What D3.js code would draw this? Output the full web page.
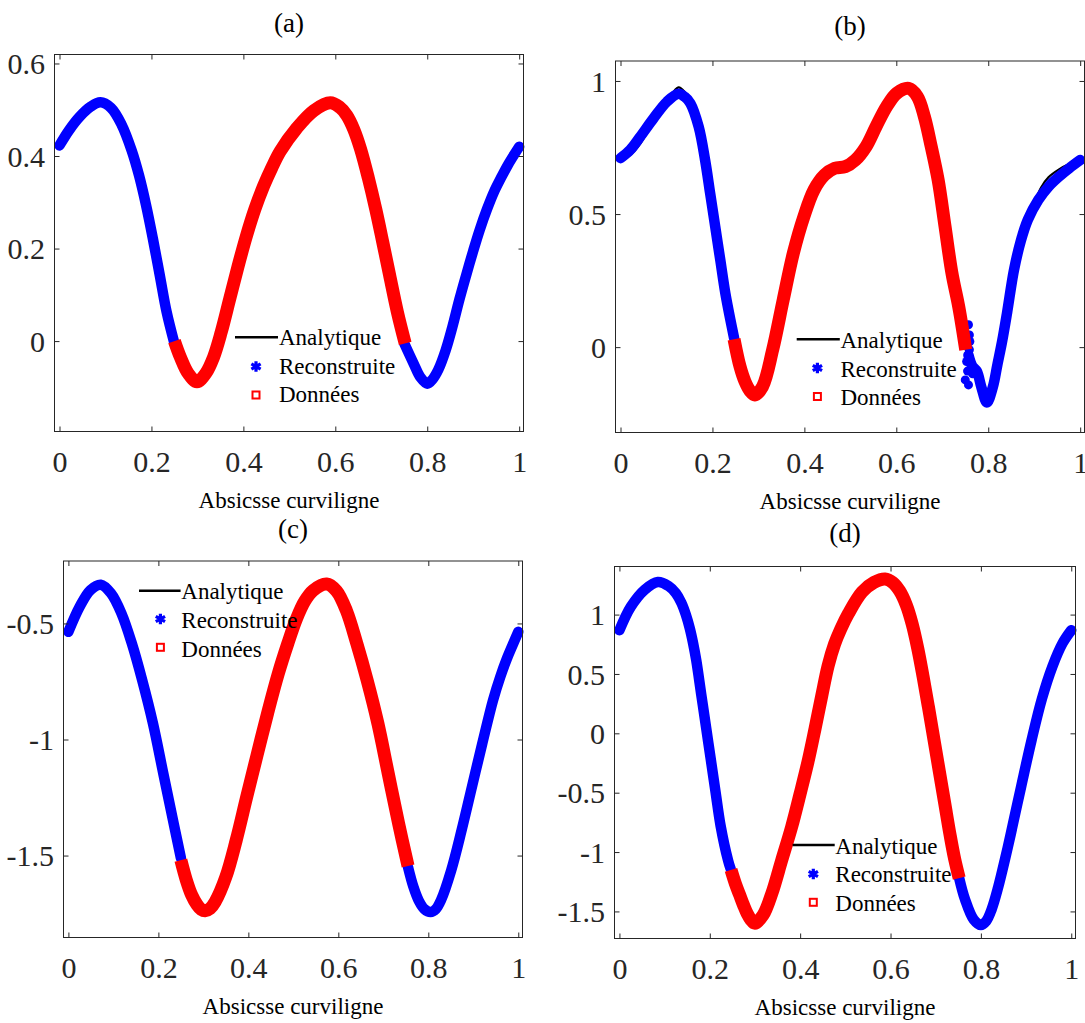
<!DOCTYPE html>
<html><head><meta charset="utf-8">
<script src="https://cdn.jsdelivr.net/npm/d3@7"></script>
<style>body{margin:0;background:#fff} svg{display:block}</style>
</head><body>
<svg id="chart" width="1085" height="1023"></svg>
<script>
// ---------- tick values & labels ----------
const xTicks = [0, 0.2, 0.4, 0.6, 0.8, 1];
const xTickLabels = ["0", "0.2", "0.4", "0.6", "0.8", "1"];
const aYTicks = [0, 0.2, 0.4, 0.6];
const aYTickLabels = ["0", "0.2", "0.4", "0.6"];
const bYTicks = [0, 0.5, 1];
const bYTickLabels = ["0", "0.5", "1"];
const cYTicks = [-1.5, -1, -0.5];
const cYTickLabels = ["-1.5", "-1", "-0.5"];
const dYTicks = [-1.5, -1, -0.5, 0, 0.5, 1];
const dYTickLabels = ["-1.5", "-1", "-0.5", "0", "0.5", "1"];
const titles = ["(a)", "(b)", "(c)", "(d)"];
const xLabel = "Absicsse curviligne";
const legendLabels = ["Analytique", "Reconstruite", "Données"];

// ---------- panel (a) : [abscissa, value] ----------
const aReconLeft = [[0,0.423],[0.021,0.456],[0.044,0.485],[0.067,0.506],[0.089,0.516],[0.112,0.504],[0.135,0.468],[0.157,0.412],[0.173,0.358],[0.188,0.295],[0.203,0.222],[0.218,0.143],[0.233,0.063],[0.25,-0.005]];
const aData = [[0.25,0.0],[0.263,-0.035],[0.28,-0.07],[0.299,-0.088],[0.318,-0.070],[0.335,-0.035],[0.352,0.020],[0.370,0.090],[0.388,0.160],[0.406,0.225],[0.425,0.285],[0.444,0.335],[0.462,0.375],[0.48,0.410],[0.516,0.460],[0.553,0.498],[0.589,0.515],[0.61,0.505],[0.625,0.488],[0.64,0.458],[0.655,0.415],[0.672,0.352],[0.688,0.285],[0.703,0.215],[0.718,0.143],[0.735,0.063],[0.752,-0.005]];
const aReconRight = [[0.75,-0.005],[0.771,-0.05],[0.785,-0.078],[0.80,-0.092],[0.812,-0.082],[0.824,-0.062],[0.84,-0.02],[0.854,0.028],[0.87,0.09],[0.884,0.14],[0.9,0.195],[0.914,0.24],[0.93,0.285],[0.945,0.322],[0.96,0.352],[0.975,0.38],[1.0,0.42]];

// ---------- panel (b) ----------
const bReconLeft = [[0,0.71],[0.021,0.741],[0.043,0.791],[0.072,0.860],[0.101,0.922],[0.126,0.952],[0.14,0.94],[0.152,0.916],[0.170,0.828],[0.184,0.703],[0.195,0.578],[0.206,0.453],[0.217,0.328],[0.228,0.203],[0.239,0.103],[0.247,0.035]];
const bData = [[0.247,0.03],[0.26,-0.073],[0.271,-0.13],[0.282,-0.165],[0.292,-0.18],[0.309,-0.148],[0.331,-0.010],[0.354,0.178],[0.376,0.353],[0.399,0.491],[0.421,0.591],[0.444,0.647],[0.466,0.672],[0.489,0.678],[0.511,0.703],[0.534,0.753],[0.556,0.829],[0.579,0.904],[0.601,0.954],[0.627,0.972],[0.646,0.941],[0.661,0.866],[0.676,0.753],[0.691,0.628],[0.706,0.453],[0.721,0.278],[0.736,0.150],[0.751,-0.010]];
const bReconRight = [[0.757,-0.03],[0.765,-0.07],[0.775,-0.09],[0.785,-0.15],[0.797,-0.208],[0.81,-0.15],[0.82,-0.065],[0.83,0.02],[0.841,0.13],[0.856,0.29],[0.871,0.40],[0.886,0.478],[0.909,0.553],[0.931,0.603],[0.954,0.641],[0.976,0.672],[1.0,0.703]];
const bReconScatter = [[0.757,0.084],[0.759,0.046],[0.760,0.021],[0.759,-0.010],[0.753,-0.054],[0.762,-0.06],[0.766,-0.10],[0.750,-0.123],[0.757,-0.142],[0.755,-0.09]];
const bAnalytic = [[0,0.705],[0.021,0.722],[0.043,0.765],[0.072,0.848],[0.101,0.922],[0.126,0.976],[0.14,0.958],[0.152,0.918],[0.170,0.828],[0.184,0.703],[0.195,0.578],[0.206,0.453],[0.217,0.328],[0.228,0.203],[0.239,0.103],[0.247,0.03],[0.26,-0.073],[0.271,-0.13],[0.282,-0.165],[0.292,-0.18],[0.309,-0.148],[0.331,-0.010],[0.354,0.178],[0.376,0.353],[0.399,0.491],[0.421,0.591],[0.444,0.647],[0.466,0.672],[0.489,0.678],[0.511,0.703],[0.534,0.753],[0.556,0.829],[0.579,0.904],[0.601,0.954],[0.627,0.972],[0.646,0.941],[0.661,0.866],[0.676,0.753],[0.691,0.628],[0.706,0.453],[0.721,0.278],[0.736,0.150],[0.751,-0.010],[0.762,-0.07],[0.775,-0.115],[0.787,-0.16],[0.797,-0.178],[0.806,-0.16],[0.815,-0.10],[0.826,-0.015],[0.841,0.13],[0.856,0.29],[0.871,0.40],[0.886,0.485],[0.9,0.54],[0.915,0.60],[0.931,0.638],[0.954,0.668],[0.976,0.688],[1.0,0.703]];

// ---------- panel (c) ----------
const cReconLeft = [[0,-0.536],[0.025,-0.428],[0.049,-0.356],[0.072,-0.333],[0.095,-0.371],[0.118,-0.457],[0.141,-0.586],[0.164,-0.744],[0.188,-0.931],[0.211,-1.147],[0.234,-1.362],[0.25,-1.51]];
const cData = [[0.25,-1.52],[0.262,-1.605],[0.274,-1.67],[0.286,-1.712],[0.295,-1.732],[0.304,-1.738],[0.315,-1.728],[0.326,-1.70],[0.350,-1.592],[0.373,-1.434],[0.396,-1.25],[0.419,-1.07],[0.443,-0.885],[0.466,-0.72],[0.488,-0.585],[0.507,-0.48],[0.525,-0.405],[0.544,-0.358],[0.574,-0.33],[0.596,-0.36],[0.618,-0.445],[0.641,-0.586],[0.664,-0.744],[0.688,-0.931],[0.711,-1.147],[0.734,-1.362],[0.755,-1.545]];
const cReconRight = [[0.755,-1.55],[0.767,-1.635],[0.779,-1.695],[0.791,-1.73],[0.805,-1.743],[0.817,-1.73],[0.828,-1.693],[0.851,-1.563],[0.874,-1.391],[0.897,-1.204],[0.920,-1.017],[0.944,-0.830],[0.96,-0.73],[0.975,-0.65],[0.988,-0.59],[1.0,-0.536]];

// ---------- panel (d) ----------
const dReconLeft = [[0,0.868],[0.025,1.065],[0.056,1.21],[0.085,1.275],[0.109,1.24],[0.125,1.18],[0.137,1.10],[0.147,1.0],[0.156,0.88],[0.163,0.76],[0.170,0.616],[0.181,0.33],[0.192,0.045],[0.202,-0.215],[0.213,-0.50],[0.224,-0.78],[0.2405,-1.071],[0.246,-1.14]];
const dData = [[0.247,-1.15],[0.257,-1.27],[0.266,-1.36],[0.275,-1.45],[0.283,-1.52],[0.291,-1.57],[0.2997,-1.60],[0.318,-1.53],[0.337,-1.352],[0.359,-1.071],[0.381,-0.79],[0.40,-0.508],[0.418,-0.228],[0.433,0.04],[0.448,0.32],[0.462,0.57],[0.476,0.75],[0.49,0.88],[0.507,1.01],[0.537,1.19],[0.563,1.27],[0.588,1.30],[0.605,1.27],[0.62,1.20],[0.635,1.08],[0.648,0.92],[0.66,0.72],[0.672,0.48],[0.684,0.22],[0.696,-0.05],[0.708,-0.32],[0.72,-0.59],[0.732,-0.86],[0.742,-1.06],[0.752,-1.22]];
const dReconRight = [[0.752,-1.22],[0.765,-1.40],[0.784,-1.568],[0.80,-1.615],[0.812,-1.58],[0.824,-1.48],[0.838,-1.30],[0.854,-1.05],[0.866,-0.85],[0.889,-0.45],[0.912,-0.06],[0.935,0.29],[0.958,0.56],[0.981,0.76],[1.0,0.868]];

// analytic solution coincides with the plotted points in (a), (c), (d)
const aAnalytic = [...aReconLeft, ...aData.slice(1), ...aReconRight.slice(1)];
const cAnalytic = [...cReconLeft, ...cData.slice(1), ...cReconRight.slice(1)];
const dAnalytic = [...dReconLeft, ...dData, ...dReconRight.slice(1)];

// ---------- layout (pixels) ----------
const xDomain = [-0.0109, 1.0094];
const FONT = "'Liberation Serif','Times New Roman',serif";
const BLUE = "#0000ff", RED = "#ff0000", AXC = "#262626";

const panels = [
  { title: titles[0], box: [54.5, 54.5, 523.5, 431.5], yDomain: [-0.1954, 0.6194], yTicks: aYTicks, yLabels: aYTickLabels,
    titleY: 32, recon: [aReconLeft, aReconRight], scatter: [], data: aData, analytic: aAnalytic,
    legend: { lx: [235, 278], ly: 337.3, tx: 279, ty: [345, 373.5, 402], mx: 256, my: [366.5, 395] } },
  { title: titles[1], box: [615.5, 61, 1084.5, 432.5], yDomain: [-0.3207, 1.075], yTicks: bYTicks, yLabels: bYTickLabels,
    titleY: 35, recon: [bReconLeft, bReconRight], scatter: bReconScatter, data: bData, analytic: bAnalytic,
    legend: { lx: [796.7, 839.8], ly: 339.3, tx: 840.5, ty: [347.7, 376.5, 405], mx: 817.4, my: [368, 396.5] } },
  { title: titles[2], box: [63.5, 561, 522.5, 937.5], yDomain: [-1.853, -0.231], yTicks: cYTicks, yLabels: cYTickLabels,
    titleY: 538, recon: [cReconLeft, cReconRight], scatter: [], data: cData, analytic: cAnalytic,
    legend: { lx: [139, 180.6], ly: 590.7, tx: 181.3, ty: [599.3, 628, 656.7], mx: 160.4, my: [619, 647.3] } },
  { title: titles[3], box: [614.5, 566.5, 1075.5, 938.5], yDomain: [-1.728, 1.405], yTicks: dYTicks, yLabels: dYTickLabels,
    titleY: 542, recon: [dReconLeft, dReconRight], scatter: [], data: dData, analytic: dAnalytic,
    legend: { lx: [792.6, 834.7], ly: 845, tx: 835.3, ty: [854, 882.3, 910.5], mx: 813.3, my: [874, 902.3] } }
];

const svg = d3.select("#chart");

panels.forEach(p => {
  const [L, T, R, B] = p.box;
  const x = d3.scaleLinear().domain(xDomain).range([L, R]);
  const y = d3.scaleLinear().domain(p.yDomain).range([B, T]);
  const g = svg.append("g");
  const line = d3.line().x(d => x(d[0])).y(d => y(d[1])).curve(d3.curveCatmullRom.alpha(0.5));

  // analytic (black) underneath
  g.append("path").attr("d", line(p.analytic)).attr("fill", "none")
    .attr("stroke", "#000").attr("stroke-width", 2.2);
  // reconstructed (blue)
  p.recon.forEach(seg => {
    g.append("path").attr("d", line(seg)).attr("fill", "none")
      .attr("stroke", BLUE).attr("stroke-width", 10.5)
      .attr("stroke-linecap", "round").attr("stroke-linejoin", "round");
  });
  g.selectAll("circle.sc").data(p.scatter).join("circle").attr("class", "sc")
    .attr("cx", d => x(d[0])).attr("cy", d => y(d[1])).attr("r", 4.5).attr("fill", BLUE);
  // data (red)
  g.append("path").attr("d", line(p.data)).attr("fill", "none")
    .attr("stroke", RED).attr("stroke-width", 13)
    .attr("stroke-linecap", "butt").attr("stroke-linejoin", "round");

  // axes
  const axB = g.append("g").attr("transform", `translate(0,${B})`)
    .call(d3.axisBottom(x).tickValues(xTicks).tickFormat((d, i) => xTickLabels[i]).tickSizeInner(-5).tickSizeOuter(0));
  const axT = g.append("g").attr("transform", `translate(0,${T})`)
    .call(d3.axisTop(x).tickValues(xTicks).tickFormat(() => "").tickSizeInner(-5).tickSizeOuter(0));
  const axL = g.append("g").attr("transform", `translate(${L},0)`)
    .call(d3.axisLeft(y).tickValues(p.yTicks).tickFormat((d, i) => p.yLabels[i]).tickSizeInner(-5).tickSizeOuter(0));
  const axR = g.append("g").attr("transform", `translate(${R},0)`)
    .call(d3.axisRight(y).tickValues(p.yTicks).tickFormat(() => "").tickSizeInner(-5).tickSizeOuter(0));
  [axB, axT, axL, axR].forEach(a => {
    a.select(".domain").remove();
    a.attr("color", AXC).attr("font-family", FONT).attr("font-size", 30);
    a.selectAll("line").attr("stroke-width", 1);
  });
  axB.selectAll("text").attr("y", 40).attr("dy", "0").attr("fill", AXC);
  axL.selectAll("text").attr("x", -9.5).attr("dy", "0.34em").attr("fill", AXC);

  // box
  g.append("rect").attr("x", L).attr("y", T).attr("width", R - L).attr("height", B - T)
    .attr("fill", "none").attr("stroke", AXC).attr("stroke-width", 1);

  // title and x label
  g.append("text").attr("x", (L + R) / 2).attr("y", p.titleY).attr("text-anchor", "middle")
    .attr("font-family", FONT).attr("font-size", 27).attr("fill", "#000").text(p.title);
  g.append("text").attr("x", (L + R) / 2).attr("y", B + 76).attr("text-anchor", "middle")
    .attr("font-family", FONT).attr("font-size", 23).attr("fill", "#000").text(xLabel);

  // legend
  const lg = p.legend;
  g.append("line").attr("x1", lg.lx[0]).attr("x2", lg.lx[1]).attr("y1", lg.ly).attr("y2", lg.ly)
    .attr("stroke", "#000").attr("stroke-width", 2.5);
  g.append("path").attr("transform", `translate(${lg.mx},${lg.my[0]})`)
    .attr("d", d3.symbol(d3.symbolAsterisk, 80)()).attr("fill", "none")
    .attr("stroke", BLUE).attr("stroke-width", 3.2);
  g.append("rect").attr("x", lg.mx - 3.5).attr("y", lg.my[1] - 3.5).attr("width", 7).attr("height", 7)
    .attr("fill", "#fff").attr("stroke", RED).attr("stroke-width", 2);
  legendLabels.forEach((t, i) => {
    g.append("text").attr("x", lg.tx).attr("y", lg.ty[i]).attr("font-family", FONT)
      .attr("font-size", 23).attr("fill", "#000").text(t);
  });
});
</script>
</body></html>
